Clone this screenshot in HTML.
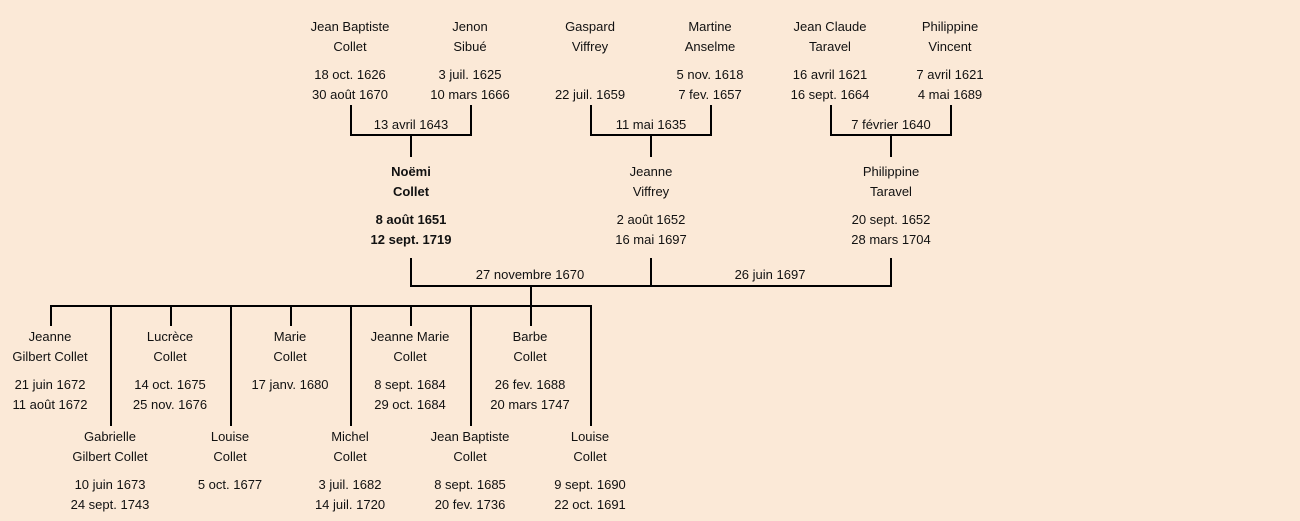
<!DOCTYPE html>
<html><head><meta charset="utf-8"><style>
body{margin:0;width:1300px;height:521px;background:#fbe9d7;position:relative;overflow:hidden;font-family:"Liberation Sans",sans-serif;font-size:13px;color:#111}
.t{position:absolute;width:200px;text-align:center;line-height:16px;white-space:nowrap}
.b{font-weight:bold}
svg{position:absolute;left:0;top:0}
</style></head><body>
<svg width="1300" height="521"><g stroke="#000" stroke-width="2" fill="none">
<path d="M351 105V135H471V105M411 135V157"/>
<path d="M591 105V135H711V105M651 135V157"/>
<path d="M831 105V135H951V105M891 135V157"/>
<path d="M411 258V286H891V258M651 258V286M531 286V306"/>
<path d="M51 326V306H591V426M171 306V326M291 306V326M411 306V326M531 306V326M111 306V426M231 306V426M351 306V426M471 306V426"/>
</g></svg>
<div id="c"></div>
<script>
var d=[
[350,27,["Jean Baptiste","Collet","","18 oct. 1626","30 août 1670"]],
[470,27,["Jenon","Sibué","","3 juil. 1625","10 mars 1666"]],
[590,27,["Gaspard","Viffrey","","","22 juil. 1659"]],
[710,27,["Martine","Anselme","","5 nov. 1618","7 fev. 1657"]],
[830,27,["Jean Claude","Taravel","","16 avril 1621","16 sept. 1664"]],
[950,27,["Philippine","Vincent","","7 avril 1621","4 mai 1689"]],
[411,125,["13 avril 1643"]],[651,125,["11 mai 1635"]],[891,125,["7 février 1640"]],
[411,172,["Noëmi","Collet","","8 août 1651","12 sept. 1719"],1],
[651,172,["Jeanne","Viffrey","","2 août 1652","16 mai 1697"]],
[891,172,["Philippine","Taravel","","20 sept. 1652","28 mars 1704"]],
[530,275,["27 novembre 1670"]],[770,275,["26 juin 1697"]],
[50,337,["Jeanne","Gilbert Collet","","21 juin 1672","11 août 1672"]],
[170,337,["Lucrèce","Collet","","14 oct. 1675","25 nov. 1676"]],
[290,337,["Marie","Collet","","17 janv. 1680"]],
[410,337,["Jeanne Marie","Collet","","8 sept. 1684","29 oct. 1684"]],
[530,337,["Barbe","Collet","","26 fev. 1688","20 mars 1747"]],
[110,437,["Gabrielle","Gilbert Collet","","10 juin 1673","24 sept. 1743"]],
[230,437,["Louise","Collet","","5 oct. 1677"]],
[350,437,["Michel","Collet","","3 juil. 1682","14 juil. 1720"]],
[470,437,["Jean Baptiste","Collet","","8 sept. 1685","20 fev. 1736"]],
[590,437,["Louise","Collet","","9 sept. 1690","22 oct. 1691"]]
];
var h="";
d.forEach(function(e){var y=e[1];e[2].forEach(function(s,i){
var yy=y+(i<2?i*20:(i-3)*20+48);
if(s)h+='<div class="t'+(e[3]?' b':'')+'" style="left:'+(e[0]-100)+'px;top:'+(yy-8)+'px">'+s+'</div>';});});
document.getElementById("c").innerHTML=h;
</script>
</body></html>
